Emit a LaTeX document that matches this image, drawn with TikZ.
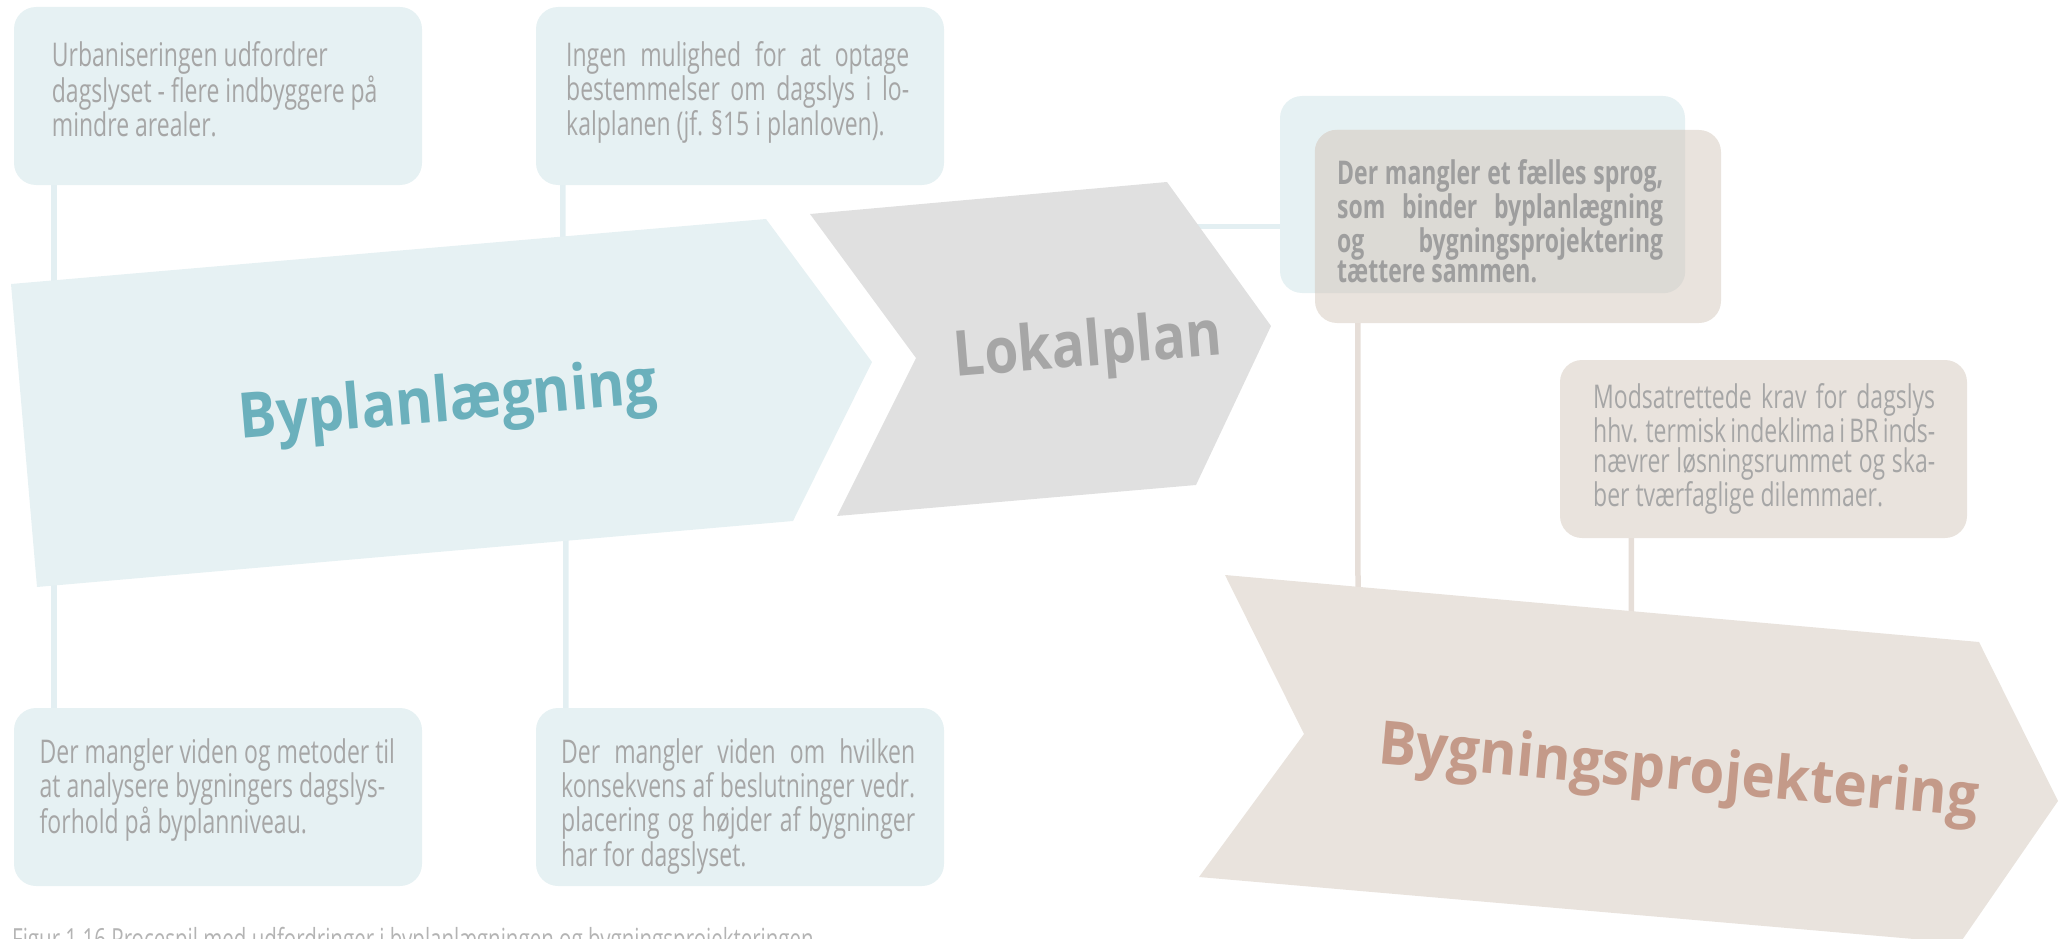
\documentclass[tikz,border=0pt]{standalone}
\usepackage{fontspec}
\setmainfont{Open Sans}
\usepackage{graphicx}

\definecolor{bluefill}{HTML}{E6F1F3}
\definecolor{greyfill}{HTML}{E0E0E0}
\definecolor{beigefill}{HTML}{E9E3DD}
\definecolor{overlapfill}{HTML}{DCDAD5}
\definecolor{bodytext}{HTML}{A6A6A6}
\definecolor{boldtext}{HTML}{9E9E9E}
\definecolor{tealtext}{HTML}{6BB0BC}
\definecolor{greytext}{HTML}{A6A6A6}
\definecolor{rosetext}{HTML}{C49A89}
\definecolor{captiontext}{HTML}{B4B4B4}
\definecolor{blueline}{HTML}{E3EFF2}
\definecolor{beigeline}{HTML}{E6DED8}

% body text: Open Sans, stretched vertically
\newcommand{\bodysize}{\fontsize{23}{21.1}\selectfont}
\newcommand{\jl}[1]{\makebox[\linewidth][s]{#1}}
\newcommand{\textblock}[2]{\scalebox{1}[1.42]{\parbox[t]{#1}{\bodysize\raggedright #2}}}
\newcommand{\titletext}[3]{\scalebox{1}[#2]{\fontsize{#1}{#1}\selectfont\bfseries #3}}

\begin{document}
\begin{tikzpicture}[x=1pt,y=-1pt,
  infobox/.style={rounded corners=22pt, inner sep=0pt, draw=none},
  link/.style={line width=5.5pt},
  body/.style={anchor=base west, inner sep=0pt, text=bodytext},
  title/.style={anchor=base west, inner sep=0pt}]
\useasboundingbox (0,0) rectangle (2069,939);
\clip (0,0) rectangle (2069,939);

% challenge boxes
\node[infobox, fill=bluefill, minimum width=408pt, minimum height=178pt] (b1) at (218,96) {};
\node[infobox, fill=bluefill, minimum width=408pt, minimum height=178pt] (b2) at (740,96) {};
\node[infobox, fill=bluefill, minimum width=408pt, minimum height=178pt] (b3) at (218,797) {};
\node[infobox, fill=bluefill, minimum width=408pt, minimum height=178pt] (b4) at (740,797) {};
\node[infobox, fill=bluefill, minimum width=405pt, minimum height=197pt] (b5a) at (1482.5,194.5) {};
\node[infobox, fill=beigefill, minimum width=406pt, minimum height=193pt] (b5b) at (1518,226.5) {};
\begin{scope}
  \clip[rounded corners=22pt] (b5a.south west) rectangle (b5a.north east);
  \fill[overlapfill, rounded corners=22pt] (b5b.south west) rectangle (b5b.north east);
\end{scope}
\node[infobox, fill=beigefill, minimum width=407pt, minimum height=178pt] (b6) at (1763.5,449) {};

% connector end points inside the arrows
\coordinate (bpTop) at (563,300);
\coordinate (bpBot) at (566,500);
\coordinate (lpEdge) at (1180,226.7);
\coordinate (bgTop1) at (1358,600);
\coordinate (bgTop2) at (1631.5,625);

% connectors
\draw[link, blueline] ([xshift=40pt]b1.south west) -- ([xshift=40pt]b3.north west);
\draw[link, blueline] ([xshift=27pt]b2.south west) -- (bpTop);
\draw[link, blueline] (bpBot) -- ([xshift=30pt]b4.north west);
\draw[link, blueline] (lpEdge) -- ([yshift=-32.2pt]b5a.west);
\draw[link, beigeline] ([xshift=43pt]b5b.south west) -- (bgTop1);
\draw[link, beigeline] ([xshift=71.5pt]b6.south west) -- (bgTop2);

% process arrows
\fill[bluefill] (11,284) -- (766,219) -- (872,362) -- (793,521) -- (37,587) -- cycle;
\fill[greyfill] (810,214) -- (1167,182) -- (1271,326) -- (1196,485) -- (837,516) -- (916,358) -- cycle;
\fill[beigefill] (1225,575) -- (1979,642) -- (2058,801) -- (1960,943) -- (1199,877) -- (1304,734) -- cycle;

% arrow titles
\node[title, text=tealtext, rotate=4.85] (tByplan) at (240,438.5) {\titletext{56.6}{1.11}{Byplanlægning}};
\node[title, text=greytext, rotate=4.74] (tLokal) at (955,377) {\titletext{54.8}{1.15}{Lokalplan}};
\node[title, text=rosetext, rotate=-5.15] (tBygning) at (1377,763) {\titletext{56.3}{1.07}{Bygningsprojektering}};

% box texts
\node[body] (x1) at (51.7,66.7) {\textblock{360pt}{Urbaniseringen udfordrer\\dagslyset - flere indbyggere på\\mindre arealer.}};
\node[body] (x2) at (566,66.7) {\textblock{343pt}{\jl{Ingen mulighed for at optage}\\\jl{bestemmelser om dagslys i lo-}\\kalplanen (jf. §15 i planloven).}};
\node[body] (x3) at (39.5,763.3) {\textblock{370pt}{Der mangler viden og metoder til\\at analysere bygningers dagslys-\\forhold på byplanniveau.}};
\node[body] (x4) at (561,763.3) {\textblock{354pt}{\jl{Der mangler viden om hvilken}\\\jl{konsekvens af beslutninger vedr.}\\\jl{placering og højder af bygninger}\\har for dagslyset.}};
\node[body, text=boldtext] (x5) at (1337,184) {\textblock{326pt}{\bfseries\jl{Der mangler et fælles sprog,}\\\jl{som binder byplanlægning}\\\jl{og bygningsprojektering}\\tættere sammen.}};
\node[body] (x6) at (1593,408.3) {\textblock{342pt}{\jl{Modsatrettede krav for dagslys}\\\jl{hhv. termisk indeklima i BR inds-}\\\jl{nævrer løsningsrummet og ska-}\\ber tværfaglige dilemmaer.}};

% caption
\node[anchor=base west, inner sep=0pt, text=captiontext] (cap) at (12,949) {\scalebox{1}[1.42]{\fontsize{20.5}{24}\selectfont Figur 1.16 Procespil med udfordringer i byplanlægningen og bygningsprojekteringen}};
\end{tikzpicture}
\end{document}
